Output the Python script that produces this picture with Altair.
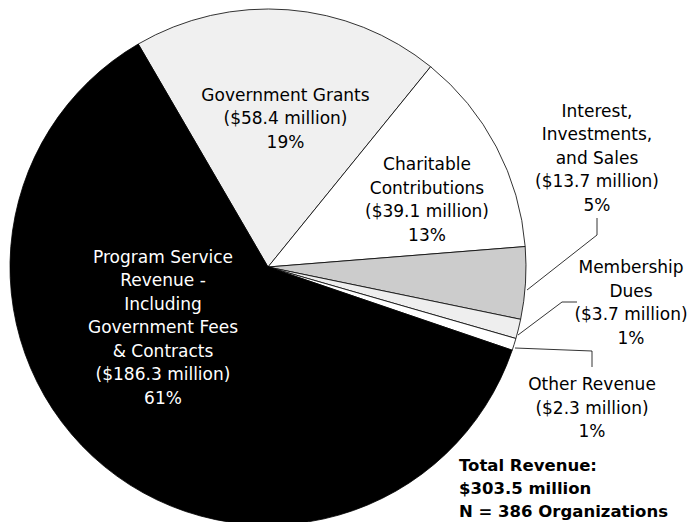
import math
import altair as alt
import pandas as pd

# ---- data ----
categories = [
    "Government Grants",
    "Charitable Contributions",
    "Interest, Investments, and Sales",
    "Membership Dues",
    "Other Revenue",
    "Program Service Revenue - Including Government Fees & Contracts",
]
values = [58.4, 39.1, 13.7, 3.7, 2.3, 186.3]          # $ million
percents = [19, 13, 5, 1, 1, 61]
label_names = [
    "Government Grants",
    "Charitable\nContributions",
    "Interest,\nInvestments,\nand Sales",
    "Membership\nDues",
    "Other Revenue",
    "Program Service\nRevenue -\nIncluding\nGovernment Fees\n& Contracts",
]
total_lines = ["Total Revenue:", "$303.5 million", "N = 386 Organizations"]

# ---- styles / layout ----
fills = ["#f0f0f0", "#ffffff", "#cccccc", "#eeeeee", "#ffffff", "#000000"]
label_colors = ["#000000"] * 5 + ["#ffffff"]
W, H = 679, 514
CX, CY, R = 260, 259, 258
start = math.radians(-30.2)

# label anchors (center x, first-line baseline y) in pixels
label_x = [277.5, 419, 589, 623, 584, 155]
label_y = [92.7, 162, 108.7, 265, 382, 254.5]

# leader line vertices (pixels)
leader_group = ["int", "int", "int", "mem", "mem", "mem", "oth", "oth", "oth"]
leader_x = [589, 589, 519, 569, 554, 510, 507, 584, 584]
leader_y = [210, 227, 282, 294, 294, 327, 340, 343, 359]

slices = pd.DataFrame({
    "category": categories,
    "value": values,
    "order": list(range(len(values))),
    "fill": fills,
})

labels = pd.DataFrame({
    "text": [f"{n}\n(${v} million)\n{p}%" for n, v, p in zip(label_names, values, percents)],
    "x": label_x,
    "y": label_y,
    "color": label_colors,
})

leaders = pd.DataFrame({
    "g": leader_group,
    "x": leader_x,
    "y": leader_y,
    "i": list(range(len(leader_x))),
})

total = pd.DataFrame({"text": ["\n".join(total_lines)], "x": [451], "y": [463]})

pie = alt.Chart(slices).mark_arc(
    radius=R, stroke="#000000", strokeWidth=0.8
).encode(
    theta=alt.Theta("value:Q", stack=True,
                    scale=alt.Scale(range=[start, start + 2 * math.pi])),
    order=alt.Order("order:Q"),
    fill=alt.Fill("fill:N", scale=None),
    x=alt.value(CX),
    y=alt.value(CY),
)

text = alt.Chart(labels).mark_text(
    font="DejaVu Sans", fontSize=17, lineBreak="\n", lineHeight=23.5,
    align="center", baseline="alphabetic",
).encode(
    x=alt.X("x:Q", scale=None),
    y=alt.Y("y:Q", scale=None),
    text="text:N",
    color=alt.Color("color:N", scale=None),
)

lines = alt.Chart(leaders).mark_line(color="#000000", strokeWidth=0.8).encode(
    x=alt.X("x:Q", scale=None),
    y=alt.Y("y:Q", scale=None),
    detail="g:N",
    order="i:Q",
)

tot = alt.Chart(total).mark_text(
    font="DejaVu Sans", fontSize=16.5, fontWeight="bold", lineBreak="\n",
    lineHeight=23.2, align="left", baseline="alphabetic", color="#000000",
).encode(
    x=alt.X("x:Q", scale=None),
    y=alt.Y("y:Q", scale=None),
    text="text:N",
)

chart = alt.layer(pie, lines, text, tot).properties(
    width=W, height=H, padding=0, autosize=alt.AutoSizeParams(type="none"),
).configure_view(stroke=None)

chart.save("out.html", embed_options={"renderer": "svg", "actions": False})
